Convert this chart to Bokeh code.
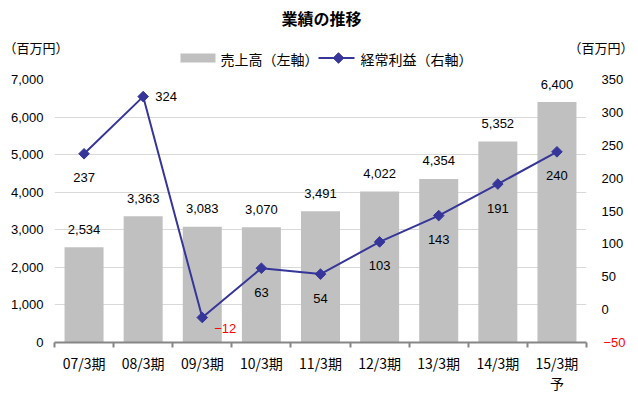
import numpy as np
from bokeh.plotting import figure
from bokeh.layouts import column
from bokeh.models import Range1d, LinearAxis, FixedTicker, ColumnDataSource
from bokeh.embed import file_html
from bokeh.resources import INLINE
from bokeh.core.properties import value

title = "業績の推移"
unit_label = "（百万円）"
series_names = ["売上高（左軸）", "経常利益（右軸）"]
categories = ["07/3期", "08/3期", "09/3期", "10/3期", "11/3期", "12/3期", "13/3期", "14/3期", "15/3期\n予"]
sales = [2534, 3363, 3083, 3070, 3491, 4022, 4354, 5352, 6400]
profit = [237, 324, -12, 63, 54, 103, 143, 191, 240]
left_ticks = [0, 1000, 2000, 3000, 4000, 5000, 6000, 7000]
right_ticks = [0, 50, 100, 150, 200, 250, 300, 350]
right_neg_ticks = [-50]

JP = "Noto Sans CJK JP"
NUM = "Liberation Sans"
BAR = "#C0C0C0"
LINE = "#35359A"
FL, FW, FR = 54, 532, 44   # frame left / width / right border in page pixels
HH = 70                    # header height


def plain_axis(ax, standoff, color="#000000", font=NUM, size="13px"):
    ax.axis_line_color = None
    ax.major_tick_line_color = None
    ax.minor_tick_line_color = None
    ax.major_tick_out = 0
    ax.major_tick_in = 0
    ax.minor_tick_out = 0
    ax.minor_tick_in = 0
    ax.major_label_standoff = standoff
    ax.major_label_text_font = font
    ax.major_label_text_font_size = size
    ax.major_label_text_color = color


# ---------------- header (title, units, legend) ----------------
h = figure(frame_width=FW, frame_height=HH, output_backend="svg", toolbar_location=None,
           x_range=Range1d(FL, FL + FW), y_range=Range1d(HH, 0), x_axis_type=None, y_axis_type=None,
           min_border_left=FL, min_border_right=FR, min_border_top=0, min_border_bottom=0,
           outline_line_color=None)
h.grid.visible = False
hl = LinearAxis(ticker=FixedTicker(ticks=[47]), major_label_overrides={47: unit_label})
plain_axis(hl, -14, font=JP, size="13px")
h.add_layout(hl, "left")
hr = LinearAxis(ticker=FixedTicker(ticks=[47]), major_label_overrides={47: unit_label})
plain_axis(hr, -18, font=JP, size="13px")
h.add_layout(hr, "right")

h.text(x=[321], y=[17], text=[title], text_align="center", text_baseline="middle",
       text_font=value(JP), text_font_size="16px", text_font_style="bold", text_color="#000000")
h.rect(x=[197.5], y=[57.5], width=[35], height=[9], fill_color=BAR, line_color=None)
h.line(x=[318, 354], y=[57.5, 57.5], line_color=LINE, line_width=2)
h.scatter(x=[338], y=[57.5], marker="square", angle=np.pi / 4, size=7.5, fill_color=LINE, line_color=LINE)
h.text(x=[220, 360], y=[58, 58], text=series_names, text_align="left", text_baseline="middle",
       text_font=value(JP), text_font_size="14px", text_color="#000000")

# ---------------- main chart ----------------
xs = list(range(len(categories)))
src = ColumnDataSource(dict(
    x=xs, sales=sales, profit=profit,
    sales_txt=[f"{v:,}" for v in sales],
    profit_txt=[f"{v}".replace("-", "\u2212") for v in profit],
    p_dx=[12 if i in (1, 2) else 0 for i in xs],
    p_dy=[0 if i == 1 else (11 if i == 2 else 24) for i in xs],
    p_align=["left" if i in (1, 2) else "center" for i in xs],
    p_color=["#FF0000" if v < 0 else "#000000" for v in profit],
))

x_end = len(categories) - 0.5
p = figure(frame_width=FW, frame_height=263, output_backend="svg", toolbar_location=None,
           x_range=Range1d(-0.5, x_end), y_range=Range1d(0, 7000),
           min_border_left=FL, min_border_right=FR, min_border_top=79 - HH, min_border_bottom=46,
           outline_line_color=None)
p.extra_y_ranges = {"right": Range1d(-50, 350)}

p.xgrid.visible = False
p.ygrid.ticker = FixedTicker(ticks=left_ticks)
p.ygrid.grid_line_color = "#D9D9D9"

p.vbar(x="x", top="sales", width=0.66, source=src, fill_color=BAR, line_color=None)
p.line(x="x", y="profit", source=src, y_range_name="right", line_color=LINE, line_width=2)
p.scatter(x="x", y="profit", source=src, y_range_name="right", marker="square", angle=np.pi / 4,
          size=7.5, fill_color=LINE, line_color=LINE)

p.text(x="x", y="sales", text="sales_txt", source=src, y_offset=-18, text_align="center",
       text_baseline="middle", text_font=value(NUM), text_font_size="13px", text_color="#000000")
p.text(x="x", y="profit", text="profit_txt", source=src, y_range_name="right",
       x_offset="p_dx", y_offset="p_dy", text_align="p_align", text_baseline="middle",
       text_font=value(NUM), text_font_size="13px", text_color="p_color")

la = p.yaxis[0]
la.ticker = FixedTicker(ticks=left_ticks)
la.major_label_overrides = {t: f"{t:,}" for t in left_ticks}
plain_axis(la, 11)

ra = LinearAxis(y_range_name="right", ticker=FixedTicker(ticks=right_ticks))
plain_axis(ra, 15)
p.add_layout(ra, "right")
# second right axis with only the red negative tick, pulled back under the first one
ra2 = LinearAxis(y_range_name="right", ticker=FixedTicker(ticks=right_neg_ticks))
ra2.major_label_overrides = {t: f"{t}".replace("-", "\u2212") for t in right_neg_ticks}
plain_axis(ra2, -23, "#FF0000")
p.add_layout(ra2, "right")

xa = p.xaxis[0]
xa.ticker = FixedTicker(ticks=xs, minor_ticks=[i - 0.5 for i in range(len(categories) + 1)])
xa.major_label_overrides = {i: c for i, c in enumerate(categories)}
xa.axis_line_color = "#868686"
xa.axis_line_width = 2
xa.major_tick_line_color = None
xa.major_tick_out = 0
xa.major_tick_in = 0
xa.minor_tick_line_color = "#868686"
xa.minor_tick_line_width = 2
xa.minor_tick_out = 5
xa.minor_tick_in = 0
xa.major_label_standoff = 5
xa.major_label_text_font = JP
xa.major_label_text_font_size = "14px"
xa.major_label_text_line_height = 1.0
xa.major_label_text_color = "#000000"

layout = column(h, p, spacing=0)
open("out.html", "w").write(file_html(layout, INLINE))
